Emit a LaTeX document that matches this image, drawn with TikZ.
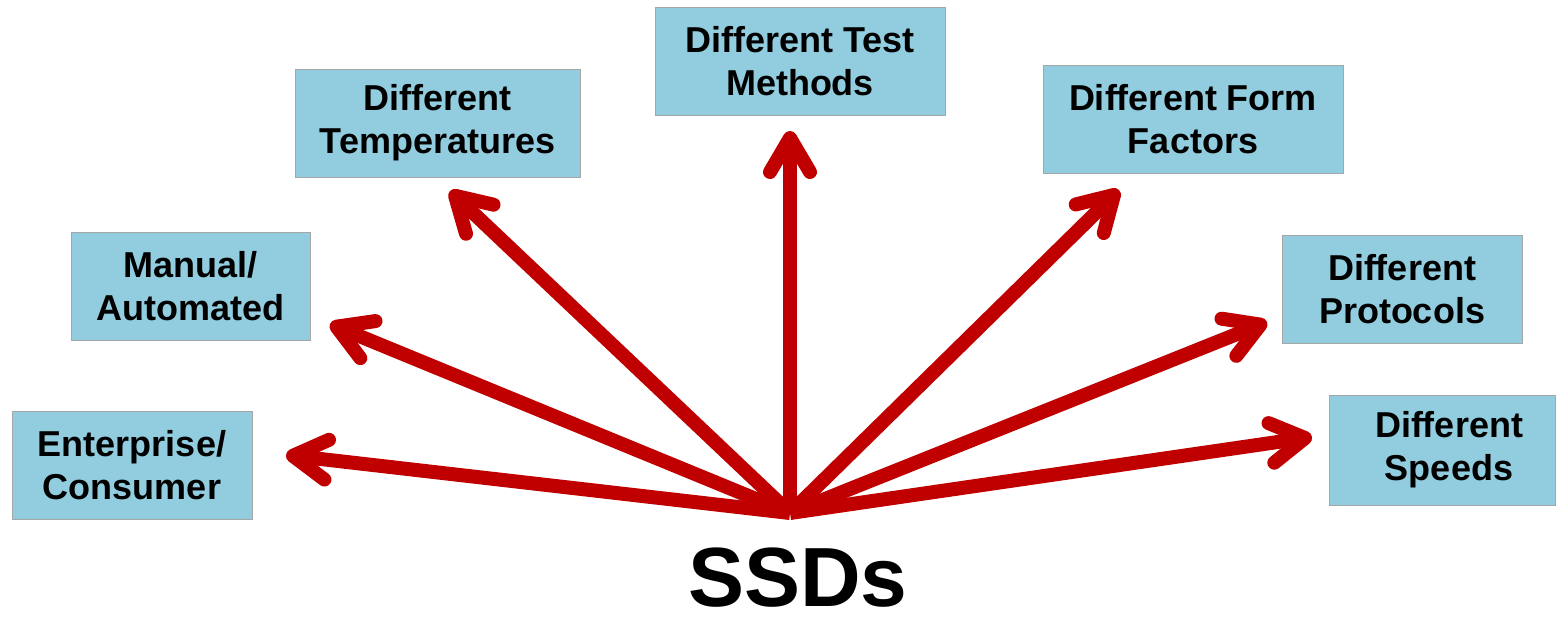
\documentclass[tikz,border=0pt]{standalone}
\usepackage{fontspec}
\setmainfont{Liberation Sans}
\usepackage{xcolor}
\usetikzlibrary{positioning, arrows.meta}

\definecolor{boxblue}{HTML}{92CDDF}
\definecolor{arrowred}{HTML}{C00000}

\begin{document}
\begin{tikzpicture}[
        x=1pt, y=-1pt,
        every node/.style={font=\fontsize{36}{43}\selectfont\bfseries},
        box/.style={draw=gray!70, fill=boxblue, line width=1pt, rectangle, minimum height=108pt, align=center, inner sep=0pt},
        spoke/.style={draw=arrowred, line width=14pt, -{Straight Barb[length=34pt, width=40pt, round]}}
    ]
    \useasboundingbox (0,0) rectangle (1556,624);

    \node[box, minimum width=240pt] (enterprise) at (132,465) {Enterprise/\\Consumer};
    \node[box, minimum width=239pt] (manual) at (190.5,286) {Manual/\\Automated};
    \node[box, minimum width=285pt] (temps) at (437.5,123) {Different\\Temperatures};
    \node[box, minimum width=290pt] (tests) at (800,61) {Different Test\\Methods};
    \node[box, minimum width=300pt] (forms) at (1193,119) {Different Form\\Factors};
    \node[box, minimum width=240pt] (protocols) at (1402,289) {Different\\Protocols};
    \node[box, minimum width=226pt, minimum height=110pt] (speeds) at (1442,450) {\hspace*{14pt}Different\\\hspace*{14pt}Speeds};

    \node[font=\fontsize{84}{96}\selectfont\bfseries, anchor=base, inner sep=0pt] (ssds) at (798,606) {SSDs};

    % hub and arrow tips
    \coordinate (hub) at (790,513);
    \coordinate (enterprise tip) at (286,455);
    \coordinate (manual tip) at (330,324);
    \coordinate (temps tip) at (450,191);
    \coordinate (tests tip) at (790,131);
    \coordinate (forms tip) at (1119,190);
    \coordinate (protocols tip) at (1267,322);
    \coordinate (speeds tip) at (1312,437);

    \foreach \t in {enterprise, manual, temps, tests, forms, protocols, speeds}
        \draw[spoke] (hub) -- (\t\space tip);

\end{tikzpicture}
\end{document}
